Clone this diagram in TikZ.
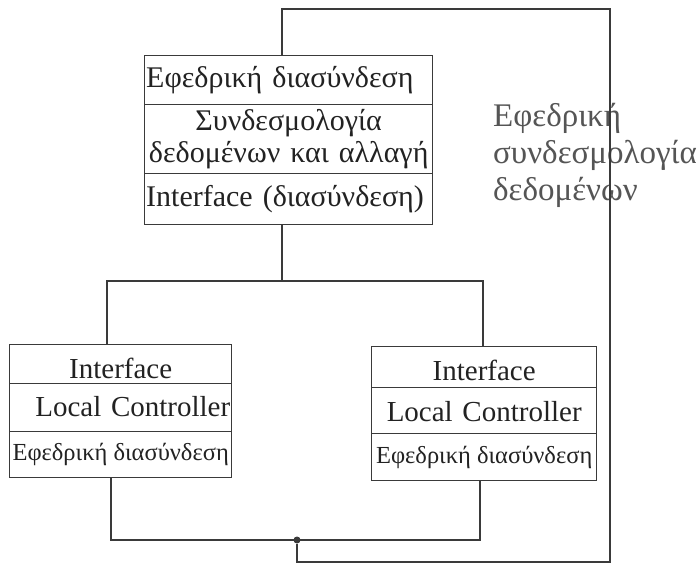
\documentclass[tikz,border=0pt]{standalone}
\usepackage{fontspec}
\setmainfont{Liberation Serif}
\definecolor{ink}{HTML}{3A3A3A}
\definecolor{txt}{HTML}{222222}
\definecolor{soft}{HTML}{555555}
\begin{document}
\begin{tikzpicture}[x=1pt,y=-1pt,
  wire/.style={draw=ink, line width=1.4pt},
  sect/.style={draw=ink, line width=1.4pt, rectangle, inner xsep=1.5pt, inner ysep=0pt,
    anchor=north west, text=txt},
  bigtxt/.style={font=\fontsize{30}{32}\selectfont},
  midtxt/.style={font=\fontsize{29}{32}\selectfont},
  smalltxt/.style={font=\fontsize{24.5}{28}\selectfont},
  junction/.style={circle, fill=ink, inner sep=0pt, minimum size=7pt}
]
\useasboundingbox (0,0) rectangle (699,564);

% upper unit: three stacked sections
\node[sect, bigtxt, minimum width=288pt, minimum height=49pt, text width=285pt, align=left]
  (t1) at (144,55) {Εφεδρική διασύνδεση};
\node[sect, bigtxt, minimum width=288pt, minimum height=69pt, text width=285pt, align=center]
  (t2) at (144,104) {Συνδεσμολογία\\δεδομένων και αλλαγή};
\node[sect, bigtxt, minimum width=288pt, minimum height=51pt, text width=285pt, align=left]
  (t3) at (144,173) {Interface (διασύνδεση)};

% left local unit
\node[sect, midtxt, minimum width=222pt, minimum height=39pt, text width=219pt, align=center,
  text height=28pt, text depth=0pt]
  (l1) at (9,344) {Interface};
\node[sect, midtxt, minimum width=222pt, minimum height=48pt, text width=219pt, align=right,
  text height=22pt, text depth=4pt]
  (l2) at (9,383) {Local Controller};
\node[sect, smalltxt, minimum width=222pt, minimum height=46pt, inner xsep=0pt]
  (l3) at (9,431) {Εφεδρική διασύνδεση};

% right local unit
\node[sect, midtxt, minimum width=225pt, minimum height=41pt, text width=222pt, align=center,
  text height=27pt, text depth=0pt]
  (r1) at (371,346) {Interface};
\node[sect, midtxt, minimum width=225pt, minimum height=46pt, text width=222pt, align=center,
  text height=24pt, text depth=2pt]
  (r2) at (371,387) {Local Controller};
\node[sect, smalltxt, minimum width=225pt, minimum height=47pt, inner xsep=0pt]
  (r3) at (371,433) {Εφεδρική διασύνδεση};

% side caption for the backup link
\node[anchor=west, align=left, text=soft, font=\fontsize{33}{37}\selectfont, inner sep=0pt]
  (cap) at (493,155) {Εφεδρική\\συνδεσμολογία\\δεδομένων};

% main bus between upper unit and local units
\coordinate (busT) at (282,281);
\coordinate (busL) at (107,281);
\coordinate (busR) at (483,281);
\draw[wire] (t3.south -| busT) -- (busT);
\draw[wire] (busL |- l1.north) -- (busL) -- (busR) -- (busR |- r1.north);

% backup bus under the local units
\coordinate (botL) at (111,540);
\coordinate (botR) at (480,540);
\draw[wire] (l3.south -| botL) -- (botL) -- (botR) -- (r3.south -| botR);
\node[junction] (junc) at (297,540) {};

% backup link returning to the upper unit
\coordinate (o1) at (297,562);
\coordinate (o2) at (610,562);
\coordinate (o3) at (610,9);
\coordinate (o4) at (282,9);
\draw[wire] (junc) -- (o1) -- (o2) -- (o3) -- (o4) -- (t1.north -| o4);
\end{tikzpicture}
\end{document}
